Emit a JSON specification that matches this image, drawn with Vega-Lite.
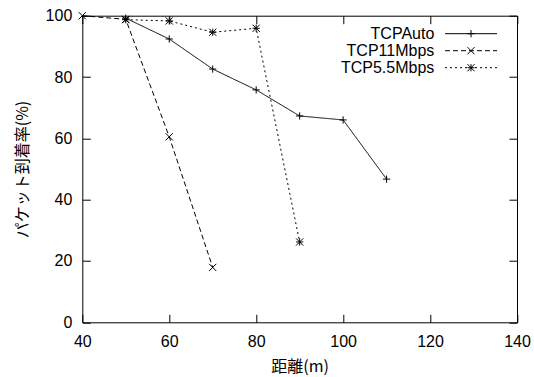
{
  "$schema": "https://vega.github.io/schema/vega-lite/v6.json",
  "width": 434.7,
  "height": 306.6,
  "autosize": {"type": "none"},
  "padding": {"left": 82.3, "top": 15.7, "right": 17, "bottom": 54.7},
  "background": "white",
  "config": {
    "view": {"stroke": "black", "strokeWidth": 1},
    "font": "Liberation Sans",
    "axis": {
      "grid": false,
      "domain": false,
      "tickColor": "black",
      "tickWidth": 1,
      "tickSize": -8,
      "labelColor": "black",
      "labelFont": "Liberation Sans",
      "labelFontSize": 16,
      "labelFlush": false,
      "titleFont": "Noto Sans CJK JP",
      "titleFontSize": 16,
      "titleFontWeight": "normal",
      "titleColor": "black"
    }
  },
  "data": {
    "values": [
      {"series": "TCPAuto", "distance": 50, "rate": 99.2},
      {"series": "TCPAuto", "distance": 60, "rate": 92.4},
      {"series": "TCPAuto", "distance": 70, "rate": 82.6},
      {"series": "TCPAuto", "distance": 80, "rate": 75.8},
      {"series": "TCPAuto", "distance": 90, "rate": 67.3},
      {"series": "TCPAuto", "distance": 100, "rate": 66.0},
      {"series": "TCPAuto", "distance": 110, "rate": 46.7},
      {"series": "TCP11Mbps", "distance": 40, "rate": 100},
      {"series": "TCP11Mbps", "distance": 50, "rate": 98.8},
      {"series": "TCP11Mbps", "distance": 60, "rate": 60.5},
      {"series": "TCP11Mbps", "distance": 70, "rate": 17.9},
      {"series": "TCP5.5Mbps", "distance": 50, "rate": 98.7},
      {"series": "TCP5.5Mbps", "distance": 60, "rate": 98.3},
      {"series": "TCP5.5Mbps", "distance": 70, "rate": 94.6},
      {"series": "TCP5.5Mbps", "distance": 80, "rate": 95.9},
      {"series": "TCP5.5Mbps", "distance": 90, "rate": 26.2}
    ]
  },
  "layer": [
    {
      "mark": {"type": "line", "color": "black", "strokeWidth": 1},
      "encoding": {
        "x": {
          "field": "distance", "type": "quantitative",
          "scale": {"domain": [40, 140], "nice": false, "zero": false},
          "axis": {"orient": "bottom", "values": [40, 60, 80, 100, 120, 140], "labelPadding": 19.6, "title": "距離(m)", "titlePadding": 9}
        },
        "y": {
          "field": "rate", "type": "quantitative",
          "scale": {"domain": [0, 100], "nice": false, "zero": false},
          "axis": {"orient": "left", "values": [0, 20, 40, 60, 80, 100], "labelPadding": 18.5, "title": "パケット到着率(%)", "titlePadding": 15}
        },
        "strokeDash": {
          "field": "series", "type": "nominal",
          "scale": {"domain": ["TCP11Mbps", "TCPAuto", "TCP5.5Mbps"], "range": [[5, 3], [1, 0], [2, 3]]},
          "legend": {
            "title": null,
            "values": ["TCPAuto", "TCP11Mbps", "TCP5.5Mbps"],
            "orient": "none",
            "legendX": 380.7,
            "legendY": 10,
            "padding": 0,
            "rowPadding": 1,
            "labelAlign": "right",
            "labelOffset": -44.7,
            "labelFont": "Liberation Sans",
            "labelFontSize": 16,
            "labelColor": "black",
            "symbolType": "M-6.5,0L6.5,0",
            "symbolSize": 64,
            "symbolStrokeColor": "black",
            "symbolStrokeWidth": 1
          }
        }
      }
    },
    {
      "mark": {"type": "point", "filled": false, "color": "black", "strokeWidth": 1, "size": 64, "opacity": 1},
      "encoding": {
        "x": {
          "field": "distance", "type": "quantitative",
          "axis": {"orient": "top", "values": [40, 60, 80, 100, 120, 140], "labels": false, "title": null}
        },
        "y": {
          "field": "rate", "type": "quantitative",
          "axis": {"orient": "right", "values": [0, 20, 40, 60, 80, 100], "labels": false, "title": null}
        },
        "shape": {
          "field": "series", "type": "nominal",
          "scale": {
            "domain": ["TCPAuto", "TCP11Mbps", "TCP5.5Mbps"],
            "range": [
              "M-0.9,0L0.9,0M0,-0.9L0,0.9",
              "M-0.9,-0.9L0.9,0.9M-0.9,0.9L0.9,-0.9",
              "M-0.9,0L0.9,0M0,-0.9L0,0.9M-0.9,-0.9L0.9,0.9M-0.9,0.9L0.9,-0.9"
            ]
          },
          "legend": {
            "title": null,
            "orient": "none",
            "legendX": 380.7,
            "legendY": 10,
            "padding": 0,
            "rowPadding": 1,
            "labelAlign": "right",
            "labelOffset": -44.7,
            "labelFont": "Liberation Sans",
            "labelFontSize": 16,
            "labelOpacity": 0,
            "labelExpr": "' '",
            "symbolSize": 64,
            "symbolStrokeColor": "black",
            "symbolStrokeWidth": 1,
            "symbolFillColor": "transparent"
          }
        }
      }
    }
  ],
  "resolve": {"axis": {"x": "independent", "y": "independent"}}
}
